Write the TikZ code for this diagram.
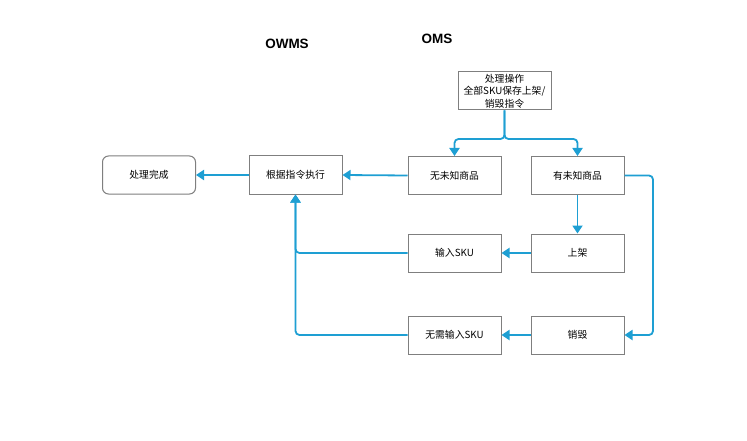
\documentclass[tikz,border=0pt]{standalone}
\usepackage{fontspec}
\setmainfont{Noto Sans CJK SC}
\newfontfamily\titlefont{Liberation Sans}
\usepackage{tikz}
\usetikzlibrary{arrows.meta}
\definecolor{linkblue}{HTML}{1E9FD3}
\definecolor{boxgray}{HTML}{7F7F7F}
\begin{document}
\begin{tikzpicture}[x=1pt, y=-1pt,
		box_style/.style={rectangle,draw=boxgray,line width=1pt,fill=white,minimum width=93pt,minimum height=38pt,inner sep=0pt,align=center,font=\fontsize{9.8}{12.5}\selectfont},
		end_style/.style={box_style,rounded corners=6pt},
		title_style/.style={font=\titlefont\bfseries\fontsize{13.5}{15}\selectfont},
		edge_style/.style={draw=linkblue,line width=1.8pt,rounded corners=4pt,-{Triangle[width=10pt,length=8pt]}}]

		\useasboundingbox (0,0) rectangle (747,441);

		\node[title_style] (owms) at (287,44) {OWMS};
		\node[title_style] (oms) at (437,39) {OMS};

		\node[box_style] (op) at (504.5,91) {处理操作\\全部SKU保存上架/\\销毁指令};
		\node[box_style] (none) at (454.5,175.5) {无未知商品};
		\node[box_style] (has) at (577.5,175.5) {有未知商品};
		\node[box_style] (exec) at (295.5,175) {根据指令执行};
		\node[end_style] (done) at (149,175) {处理完成};
		\node[box_style] (input) at (454.5,253) {输入SKU};
		\node[box_style] (shelf) at (577.5,253) {上架};
		\node[box_style] (noinput) at (454.5,335) {无需输入SKU};
		\node[box_style] (destroy) at (577.5,335) {销毁};

		\coordinate (split) at (504.5,139);
		\coordinate (rturn) at (653,175.5);

		\draw[edge_style] (op.south) -- (split) -| (none.north);
		\draw[edge_style] (op.south) -- (split) -| (has.north);
		\draw[edge_style] (has.south) -- (shelf.north);
		\draw[edge_style] (has.east) -- (rturn) |- (destroy.east);
		\draw[edge_style] (shelf.west) -- (input.east);
		\draw[edge_style] (destroy.west) -- (noinput.east);
		\draw[edge_style] (none.west) -- (exec.east);
		\draw[edge_style] (input.west) -| (exec.south);
		\draw[edge_style] (noinput.west) -| (exec.south);
		\draw[edge_style] (exec.west) -- (done.east);
\end{tikzpicture}
\end{document}
